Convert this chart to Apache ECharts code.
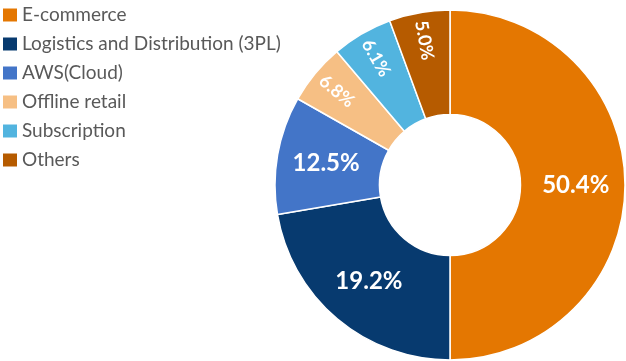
<!DOCTYPE html>
<html>
<head>
<meta charset="utf-8">
<script src="https://cdn.jsdelivr.net/npm/echarts@6/dist/echarts.min.js"></script>
<style>html,body{margin:0;padding:0;background:#fff;}#c{width:626px;height:361px;}</style>
</head>
<body>
<div id="c"></div>
<script>
var categories = ['E-commerce', 'Logistics and Distribution (3PL)', 'AWS(Cloud)', 'Offline retail', 'Subscription', 'Others'];
var sliceValues = [50.0, 22.3, 10.9, 5.6, 5.6, 5.6];
var percentLabels = ['50.4%', '19.2%', '12.5%', '6.8%', '6.1%', '5.0%'];
var colors = ['#E47701', '#073A6F', '#4375C8', '#F6BF84', '#52B4DF', '#B65B00'];

var total = sliceValues.reduce(function (a, b) { return a + b; }, 0);
var cum = 0;
var mainData = [], smallLabelData = [];
categories.forEach(function (name, i) {
  var v = sliceValues[i];
  var mid = (cum + v / 2) / total * 360; // clockwise from top
  cum += v;
  var small = v < 10;
  mainData.push({
    name: name,
    value: v,
    label: {show: !small, formatter: percentLabels[i]}
  });
  smallLabelData.push({
    name: name,
    value: v,
    itemStyle: {color: 'rgba(0,0,0,0)'},
    label: {show: small, formatter: percentLabels[i], rotate: 270 - mid}
  });
});

var chart = echarts.init(document.getElementById('c'), null, {renderer: 'canvas'});
chart.setOption({
  animation: false,
  color: colors,
  legend: {
    orient: 'vertical',
    left: 3,
    top: 5.5,
    padding: 0,
    itemWidth: 14,
    itemHeight: 13,
    itemGap: 10,
    icon: 'rect',
    itemStyle: {borderWidth: 0},
    textStyle: {fontFamily: 'Lato', fontSize: 19, color: '#595959', lineHeight: 19},
    data: categories
  },
  series: [{
    type: 'pie',
    center: [450, 185],
    radius: [70.5, 175],
    startAngle: 90,
    clockwise: true,
    avoidLabelOverlap: false,
    itemStyle: {borderColor: '#fff', borderWidth: 1.5},
    label: {
      position: 'inside',
      color: '#fff',
      fontFamily: 'Lato',
      fontWeight: 'bold',
      fontSize: 24
    },
    labelLine: {show: false},
    emphasis: {disabled: true},
    data: mainData
  }, {
    type: 'pie',
    silent: true,
    center: [450, 185],
    radius: [113, 175],
    startAngle: 90,
    clockwise: true,
    avoidLabelOverlap: false,
    itemStyle: {borderWidth: 0},
    label: {
      position: 'inside',
      color: '#fff',
      fontFamily: 'Lato',
      fontWeight: 'bold',
      fontSize: 18
    },
    labelLine: {show: false},
    emphasis: {disabled: true},
    data: smallLabelData
  }]
});
</script>
</body>
</html>
